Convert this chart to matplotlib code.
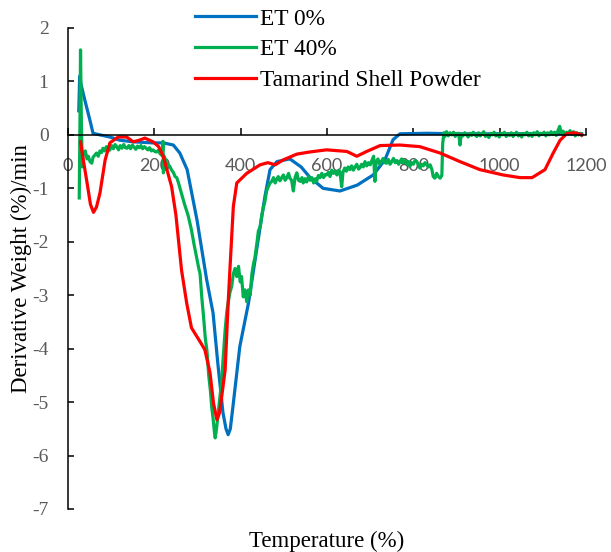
import matplotlib.pyplot as plt

# DTG curves
et0_temp = [25, 27, 30, 39, 50, 58, 74, 97, 120, 151, 197, 221, 244, 259, 276, 299, 321, 336, 347, 359, 366,
            371, 376, 382, 398, 418, 437, 456, 468, 484, 514, 540, 561, 591, 630, 670, 707, 734, 753, 769,
            832, 900, 1000, 1100, 1190]
et0_dtg = [0.45, 1.1, 0.95, 0.65, 0.3, 0.03, 0.0, -0.04, -0.1, -0.13, -0.15, -0.15, -0.19, -0.34, -0.65,
           -1.6, -2.7, -3.33, -4.27, -5.2, -5.5, -5.61, -5.5, -5.09, -3.96, -3.15, -2.15, -1.16, -0.65, -0.5,
           -0.45, -0.6, -0.8, -1.0, -1.05, -0.94, -0.75, -0.47, -0.09, 0.02, 0.03, 0.02, 0.02, 0.02, 0.02]

et40_temp = [26, 28, 29, 31, 33, 35, 40, 44, 47, 51, 55, 58, 62, 66, 70, 74, 78, 81, 85, 89, 93, 97, 101,
             105, 109, 113, 117, 121, 125, 129, 133, 137, 141, 145, 149, 153, 157, 161, 165, 169, 173, 177,
             181, 185, 189, 193, 197, 201, 205, 209, 213, 217, 219, 220, 221, 223, 227, 231, 236, 240, 244,
             248, 252, 256, 263, 270, 278, 286, 292, 298, 303, 306, 310, 314, 318, 322, 326, 330, 333, 336,
             339, 341, 344, 348, 352, 356, 360, 364, 368, 371, 375, 379, 383, 387, 391, 395, 399, 402, 406,
             410, 414, 418, 422, 426, 430, 433, 438, 441, 445, 449, 452, 456, 460, 464, 468, 472, 476, 480,
             483, 487, 491, 495, 499, 503, 507, 511, 514, 518, 522, 526, 530, 534, 538, 542, 545, 549, 553,
             557, 561, 565, 569, 573, 576, 580, 584, 588, 592, 596, 599, 603, 607, 611, 615, 619, 623, 627,
             630, 634, 637, 641, 645, 649, 653, 657, 661, 665, 669, 673, 676, 680, 684, 688, 692, 696, 700,
             704, 708, 711, 714, 718, 722, 726, 730, 734, 738, 742, 746, 750, 754, 758, 762, 766, 769, 773,
             777, 781, 785, 789, 792, 796, 800, 804, 808, 812, 815, 819, 823, 827, 831, 835, 839, 843, 846,
             850, 854, 858, 862, 866, 868, 871, 873, 877, 881, 885, 889, 893, 897, 901, 905, 908, 911, 915,
             919, 923, 927, 931, 935, 939, 943, 947, 951, 955, 959, 963, 967, 971, 975, 979, 983, 987, 991,
             995, 999, 1003, 1007, 1011, 1015, 1019, 1023, 1027, 1031, 1035, 1039, 1043, 1047, 1051, 1055,
             1059, 1063, 1067, 1071, 1075, 1079, 1083, 1087, 1091, 1095, 1099, 1103, 1107, 1111, 1115, 1119,
             1123, 1127, 1131, 1135, 1139, 1143, 1147, 1151, 1155, 1159, 1163, 1167, 1171, 1175, 1179, 1183,
             1187, 1190]
et40_dtg = [-1.18, 0.5, 1.59, 0.2, -0.6, -0.34, -0.3, -0.45, -0.4, -0.5, -0.53, -0.42, -0.38, -0.34, -0.4,
            -0.3, -0.33, -0.25, -0.3, -0.22, -0.3, -0.28, -0.2, -0.26, -0.18, -0.22, -0.28, -0.2, -0.25,
            -0.18, -0.24, -0.25, -0.2, -0.26, -0.19, -0.23, -0.27, -0.21, -0.24, -0.2, -0.26, -0.22, -0.25,
            -0.28, -0.24, -0.3, -0.28, -0.31, -0.32, -0.29, -0.35, -0.38, -0.3, -0.12, -0.71, -0.4, -0.5,
            -0.55, -0.59, -0.66, -0.7, -0.78, -0.8, -0.9, -1.1, -1.3, -1.5, -1.78, -2.05, -2.3, -2.5, -2.6,
            -3.05, -3.4, -3.8, -4.05, -4.5, -4.8, -5.1, -5.3, -5.55, -5.67, -5.5, -5.2, -4.9, -4.58, -4.1,
            -3.65, -3.3, -3.14, -2.95, -2.84, -2.6, -2.5, -2.65, -2.46, -2.75, -2.65, -3.03, -2.9, -3.12,
            -2.9, -3.0, -2.6, -2.4, -2.3, -2.0, -1.8, -1.72, -1.5, -1.38, -1.25, -1.05, -0.97, -0.9, -0.87,
            -0.8, -0.9, -0.84, -0.78, -0.86, -0.8, -0.75, -0.85, -0.8, -0.72, -0.81, -0.85, -1.05, -0.8,
            -0.71, -0.85, -0.87, -0.8, -0.9, -0.82, -0.88, -0.78, -0.85, -0.8, -0.9, -0.82, -0.87, -0.76,
            -0.8, -0.72, -0.8, -0.74, -0.75, -0.7, -0.78, -0.66, -0.72, -0.68, -0.75, -0.66, -0.69, -0.97,
            -0.7, -0.62, -0.68, -0.6, -0.65, -0.58, -0.66, -0.6, -0.55, -0.64, -0.62, -0.55, -0.6, -0.5,
            -0.58, -0.52, -0.56, -0.48, -0.4, -0.87, -0.5, -0.45, -0.55, -0.5, -0.44, -0.52, -0.53, -0.46,
            -0.55, -0.5, -0.44, -0.52, -0.48, -0.55, -0.5, -0.45, -0.52, -0.48, -0.55, -0.5, -0.59, -0.52,
            -0.55, -0.48, -0.5, -0.56, -0.62, -0.55, -0.58, -0.52, -0.56, -0.6, -0.56, -0.65, -0.78, -0.81,
            -0.72, -0.78, -0.81, -0.76, -0.16, 0.04, -0.03, 0.06, -0.02, 0.04, 0.0, 0.05, -0.03, 0.02, 0.03,
            -0.19, 0.02, -0.02, 0.04, 0.01, -0.04, 0.03, -0.01, 0.05, 0.0, -0.03, 0.04, -0.02, 0.02, 0.06,
            -0.03, 0.01, -0.05, 0.03, 0.0, 0.05, -0.02, 0.02, -0.04, 0.03, 0.0, 0.05, -0.03, 0.02, -0.01,
            0.04, -0.03, 0.01, 0.05, -0.02, 0.02, -0.04, 0.03, 0.0, 0.05, -0.02, 0.03, -0.03, 0.04, 0.0,
            0.06, -0.02, 0.03, 0.01, 0.05, -0.02, 0.04, 0.0, 0.06, 0.01, 0.05, -0.01, 0.08, 0.16, 0.03, 0.07,
            0.0, 0.05, 0.02, 0.08, 0.01, 0.06, -0.02, 0.04, 0.0, 0.03, -0.01]

tsp_temp = [29, 35, 43, 52, 59, 66, 74, 86, 97, 116, 136, 151, 165, 178, 197, 210, 221, 240, 250, 263, 275,
            286, 306, 317, 329, 337, 345, 351, 356, 364, 371, 375, 383, 391, 414, 445, 463, 480, 498, 530,
            560, 599, 646, 669, 692, 723, 769, 815, 862, 908, 954, 1008, 1047, 1075, 1105, 1124, 1140, 1155,
            1174, 1190]
tsp_dtg = [-0.13, -0.45, -0.84, -1.3, -1.45, -1.35, -1.09, -0.47, -0.15, -0.04, -0.04, -0.13, -0.1, -0.06,
           -0.13, -0.22, -0.41, -0.97, -1.5, -2.53, -3.15, -3.61, -3.87, -4.02, -4.45, -5.02, -5.33, -5.2,
           -4.9, -4.4, -3.15, -2.53, -1.34, -0.9, -0.72, -0.56, -0.52, -0.56, -0.47, -0.36, -0.32, -0.28,
           -0.31, -0.4, -0.31, -0.2, -0.19, -0.22, -0.34, -0.5, -0.65, -0.75, -0.8, -0.8, -0.65, -0.34, -0.1,
           0.02, 0.04, 0.0]

x_ticks = [0, 200, 400, 600, 800, 1000, 1200]
y_ticks = [2, 1, 0, -1, -2, -3, -4, -5, -6, -7]

plt.rcParams['font.family'] = ['Liberation Serif', 'DejaVu Serif']
plt.rcParams['axes.unicode_minus'] = False
fig = plt.figure(figsize=(6.11, 5.52), dpi=100)
ax = fig.add_axes([0.1113, 0.0779, 0.8478, 0.8714])

ax.plot(et0_temp, et0_dtg, color='#0070C0', lw=2.3, label='ET 0%')
ax.plot(et40_temp, et40_dtg, color='#00B050', lw=2.3, label='ET 40%')
ax.plot(tsp_temp, tsp_dtg, color='#FF0000', lw=2.3, label='Tamarind Shell Powder')

ax.set_xlim(0, 1200)
ax.set_ylim(-7, 2)
ax.set_xticks(x_ticks)
ax.set_yticks(y_ticks)

# x axis sits on y = 0, like the Excel original
ax.spines['bottom'].set_position(('data', 0))
ax.spines['top'].set_visible(False)
ax.spines['right'].set_visible(False)
ax.spines['bottom'].set_linewidth(1.1)
ax.spines['left'].set_linewidth(1.1)

ax.tick_params(axis='x', direction='in', length=5, width=1.1, pad=16.5, labelsize=13, labelcolor='#595959')
ax.tick_params(axis='y', direction='in', length=4, width=1.1, pad=14, labelsize=14, labelcolor='#595959')
for lab in ax.get_xticklabels():
    lab.set_fontfamily('Lato')

ax.set_xlabel('Temperature (%)', fontsize=16.5)
ax.set_ylabel('Derivative Weight (%)/min', fontsize=16.5)
ax.xaxis.set_label_coords(0.5, -0.045)
ax.yaxis.set_label_coords(-0.07, 0.5)

fig.legend(loc='upper left', bbox_to_anchor=(0.319, 0.985), frameon=False, fontsize=16.8,
           handlelength=2.6, handletextpad=0.2, labelspacing=0.4, borderpad=0, borderaxespad=0)

plt.savefig('out.png', dpi=100)
